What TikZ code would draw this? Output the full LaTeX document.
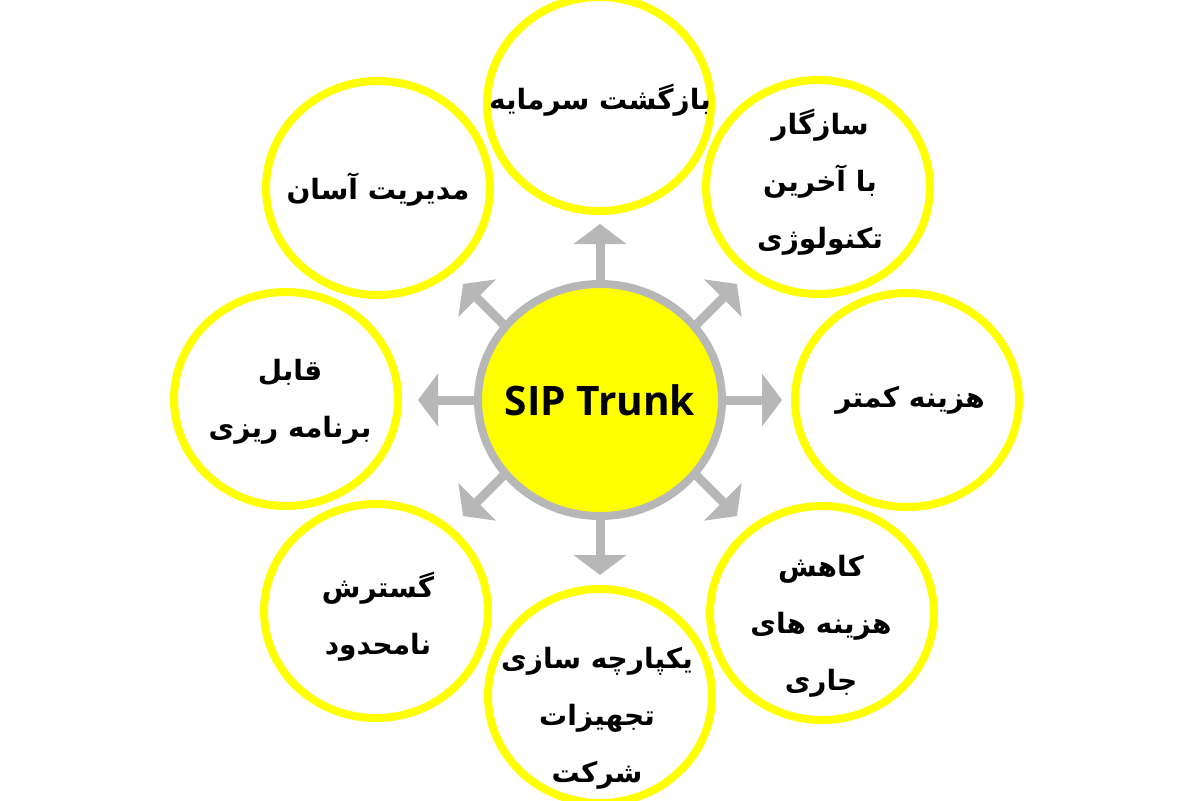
\documentclass[tikz,border=0pt]{standalone}
\usepackage{fontspec}
\setmainfont{Open Sans}
\newfontfamily\farsi[Script=Arabic]{DejaVu Sans}
\TeXXeTstate=1
\usetikzlibrary{arrows.meta,shapes.geometric,calc}
\definecolor{sunny}{RGB}{255,255,0}
\definecolor{spokegray}{RGB}{183,183,183}
\newcommand\faline[1]{\beginR #1\endR}
\tikzset{
  petal/.style={ellipse, draw=sunny, line width=4pt, fill=white,
    minimum width=112pt, minimum height=107pt, inner sep=0pt},
  hubnode/.style={ellipse, draw=spokegray, line width=4pt, fill=sunny,
    minimum width=122pt, minimum height=116pt, inner sep=0pt},
  hubtext/.style={font=\bfseries\fontsize{20.3}{22}\selectfont},
  spoke/.style={draw=spokegray, line width=4.5pt,
    -{Triangle[width=26pt,length=10pt]}},
  caption/.style={font=\farsi\bfseries\fontsize{14}{28.5}\selectfont,
    align=center, inner sep=0pt},
}
\begin{document}
\begin{tikzpicture}[x=0.5pt, y=-0.5pt]
  \useasboundingbox (0, 0) rectangle (1200, 800);
  % petals
  \node[petal] (roi) at (599, 104) {};
  \node[petal] (compat) at (818, 187) {};
  \node[petal] (cost) at (907, 400) {};
  \node[petal] (reduce) at (822, 613) {};
  \node[petal] (integ) at (600, 696) {};
  \node[petal] (expand) at (376, 611) {};
  \node[petal] (plan) at (286, 399) {};
  \node[petal] (manage) at (378, 188) {};
  % spokes
  \foreach \n/\x/\y/\dx/\dy in {N/600/224/0/80, NE/737/284/-70/70,
      E/782/400/-80/0, SE/737/516/-70/-70, S/600/575/0/-80,
      SW/463/516/70/-70, W/418/400/80/0, NW/463/284/70/70}{
    \coordinate (t\n) at (\x, \y);
    \draw[spoke] ($(t\n) + (\dx, \dy)$) -- (t\n);
  }
  \node[hubnode, label={[hubtext]center:SIP Trunk}] (hub) at (600, 400) {};
  % texts
  \node[caption] (roitext) at (600, 100) {\faline{بازگشت سرمایه}};
  \node[caption] (compattext) at (820, 182)
    {\faline{سازگار}\\\faline{با آخرین}\\\faline{تکنولوژی}};
  \node[caption] (costtext) at (910, 400) {\faline{هزینه کمتر}};
  \node[caption] (reducetext) at (821, 626)
    {\faline{کاهش}\\\faline{هزینه های}\\\faline{جاری}};
  \node[caption] (integtext) at (597, 718)
    {\faline{یکپارچه سازی}\\\faline{تجهیزات}\\\faline{شرکت}};
  \node[caption] (expandtext) at (378, 617)
    {\faline{گسترش}\\\faline{نامحدود}};
  \node[caption] (plantext) at (290, 402)
    {\faline{قابل}\\\faline{برنامه ریزی}};
  \node[caption] (managetext) at (378, 190) {\faline{مدیریت آسان}};
\end{tikzpicture}
\end{document}
